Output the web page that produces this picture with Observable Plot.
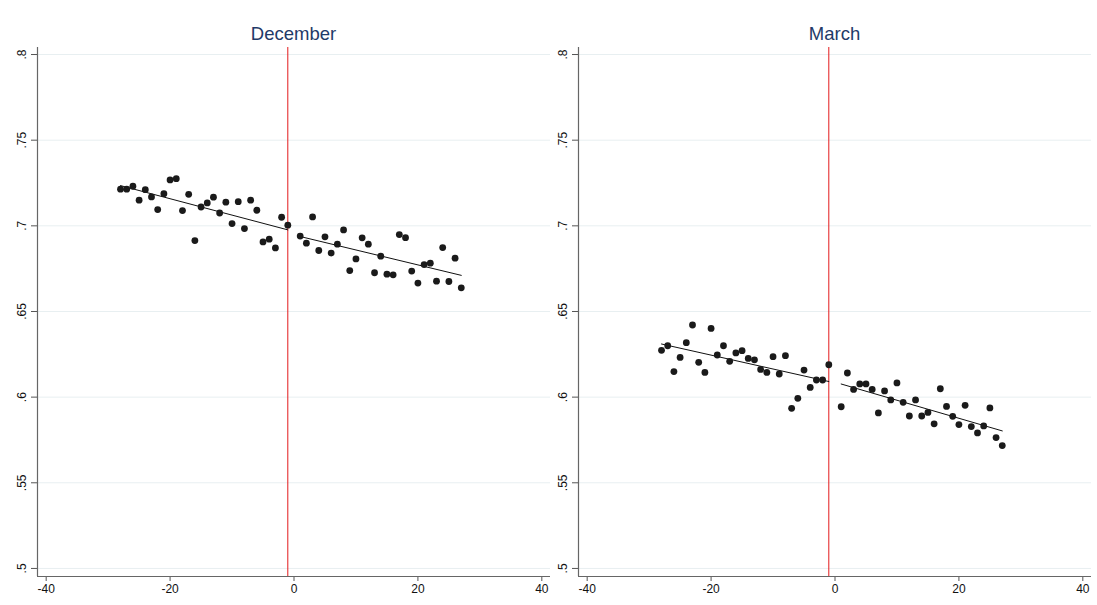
<!DOCTYPE html>
<html>
<head>
<meta charset="utf-8">
<script src="https://cdn.jsdelivr.net/npm/d3@7"></script>
<script src="https://cdn.jsdelivr.net/npm/@observablehq/plot@0.6"></script>
<style>
  html, body { margin: 0; padding: 0; background: #fff; }
  #wrap { position: relative; width: 1097px; height: 605px; overflow: hidden; font-family: "Liberation Sans", Arial, sans-serif; }
  .panel { position: absolute; top: 40px; }
  .title { position: absolute; top: 23px; width: 513px; text-align: center; font-size: 18.5px; line-height: 22px; color: #1f3a68; }
  svg { overflow: visible; }
</style>
</head>
<body>
<div id="wrap"></div>
<script>
// ---- data ----
const panelTitles = ["December", "March"];
const daysPre  = [-28,-27,-26,-25,-24,-23,-22,-21,-20,-19,-18,-17,-16,-15,-14,-13,-12,-11,-10,-9,-8,-7,-6,-5,-4,-3,-2,-1];
const daysPost = [1,2,3,4,5,6,7,8,9,10,11,12,13,14,15,16,17,18,19,20,21,22,23,24,25,26,27];

const decPre  = [0.7214,0.7214,0.7231,0.7150,0.7211,0.7169,0.7095,0.7188,0.7268,0.7275,0.7089,0.7184,0.6914,0.7110,0.7134,0.7167,0.7075,0.7138,0.7013,0.7141,0.6984,0.7150,0.7091,0.6906,0.6922,0.6871,0.7050,0.7004];
const decPost = [0.6940,0.6899,0.7052,0.6856,0.6936,0.6841,0.6893,0.6976,0.6739,0.6807,0.6930,0.6893,0.6726,0.6823,0.6718,0.6714,0.6949,0.6931,0.6736,0.6666,0.6774,0.6782,0.6677,0.6873,0.6675,0.6811,0.6638];

const marPre  = [0.6273,0.6300,0.6149,0.6232,0.6318,0.6421,0.6203,0.6144,0.6401,0.6246,0.6300,0.6209,0.6258,0.6271,0.6226,0.6218,0.6162,0.6144,0.6236,0.6135,0.6242,0.5935,0.5993,0.6158,0.6057,0.6100,0.6100,0.6189];
const marPost = [0.5944,0.6141,0.6045,0.6077,0.6077,0.6045,0.5908,0.6036,0.5984,0.6083,0.5970,0.5890,0.5984,0.5890,0.5911,0.5844,0.6049,0.5946,0.5888,0.5840,0.5952,0.5828,0.5791,0.5832,0.5937,0.5764,0.5717];

const cutoff = -1;
const xTicks = [-40, -20, 0, 20, 40];
const xTickLabels = ["-40", "-20", "0", "20", "40"];
const yTicks = [0.5, 0.55, 0.6, 0.65, 0.7, 0.75, 0.8];
const yTickLabels = [".5", ".55", ".6", ".65", ".7", ".75", ".8"];
const xDomain = [-41.4, 41.4];
const yDomain = [0.4953, 0.8041];

// ---- drawing ----
const toRows = (xs, ys) => xs.map((d, i) => ({day: d, value: ys[i]}));
const wrap = document.getElementById("wrap");

function panel(title, pre, post, left, width, mL, mR) {
  const rowsPre = toRows(daysPre, pre);
  const rowsPost = toRows(daysPost, post);
  const chart = Plot.plot({
    width, height: 565,
    marginTop: 7, marginBottom: 29, marginLeft: mL, marginRight: mR,
    style: {background: "transparent", fontFamily: "'Liberation Sans', Arial, sans-serif", fontSize: "12px", color: "#111", overflow: "visible"},
    x: {domain: xDomain},
    y: {domain: yDomain},
    marks: [
      Plot.ruleY(yTicks, {stroke: "#e8eff1", strokeWidth: 1}),
      Plot.ruleX([cutoff], {stroke: "#e31a1c", strokeWidth: 1}),
      Plot.axisX({ticks: xTicks, tickFormat: d => xTickLabels[xTicks.indexOf(d)], tickSize: 5, tickPadding: 3, label: null, stroke: "#555"}),
      Plot.axisY({ticks: yTicks, tickFormat: d => yTickLabels[yTicks.indexOf(d)], tickRotate: -90, tickSize: 6, tickPadding: 6, label: null, stroke: "#555"}),
      Plot.ruleY([yDomain[0]], {stroke: "#666", strokeWidth: 1.2}),
      Plot.ruleX([xDomain[0]], {stroke: "#666", strokeWidth: 1.2}),
      Plot.linearRegressionY(rowsPre, {x: "day", y: "value", ci: 0, stroke: "#111", strokeWidth: 1}),
      Plot.linearRegressionY(rowsPost, {x: "day", y: "value", ci: 0, stroke: "#111", strokeWidth: 1}),
      Plot.dot(rowsPre, {x: "day", y: "value", r: 3.4, fill: "#1a1a1a"}),
      Plot.dot(rowsPost, {x: "day", y: "value", r: 3.4, fill: "#1a1a1a"})
    ]
  });
  const div = document.createElement("div");
  div.className = "panel";
  div.style.left = left + "px";
  div.appendChild(chart);
  wrap.appendChild(div);
  const t = document.createElement("div");
  t.className = "title";
  t.style.left = (left + mL) + "px";
  t.textContent = title;
  wrap.appendChild(t);
}

panel(panelTitles[0], decPre, decPost, 0, 560, 37, 10);
panel(panelTitles[1], marPre, marPost, 540, 557, 38, 6);
</script>
</body>
</html>
